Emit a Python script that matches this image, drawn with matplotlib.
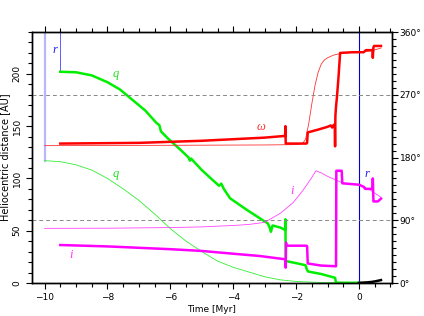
import numpy as np
import matplotlib.pyplot as plt
from matplotlib.ticker import MultipleLocator

# perihelion distance q [AU], thin run (starts at -10 Myr)
t_q_thin = [-10, -9.5, -9, -8.5, -8, -7.5, -7, -6.5, -6, -5.5, -5, -4.5, -4,
            -3.5, -3, -2.5, -2, -1.5, -1, -0.5, 0]
q_thin = [117, 116, 113, 108, 100, 90, 79, 66, 52, 40, 30, 21, 15,
          10.5, 6, 3, 1.5, 0.8, 0.4, 0.2, 0.1]

# perihelion distance q [AU], thick run (starts at -9.5 Myr)
t_q = [-9.5, -9, -8.5, -8, -7.6, -7.2, -6.8, -6.44, -6.35, -6.3, -6.07, -5.7,
       -5.42, -5.38, -5.34, -5.0, -4.6, -4.45, -4.38, -4.3, -4.1, -3.57, -3.15,
       -2.9, -2.84, -2.8, -2.75, -2.5, -2.35, -2.34, -2.33, -2.0, -1.7, -1.66,
       -1.62, -1.2, -0.76, -0.73, -0.3, 0]
q = [202, 201.5, 198.5, 192, 185, 175, 165, 153, 151, 145, 138, 128,
     120, 117, 119, 108, 97, 93, 95, 90, 81, 70, 61.8,
     57, 53, 49, 55, 53, 50.7, 61, 21, 19, 17, 13,
     11, 8.6, 5, 0.3, 0.2, 0.2]

# q after t = 0 (black)
t_q_end = [0, 0.2, 0.4, 0.55, 0.7]
q_end = [0.2, 0.5, 1.0, 1.8, 2.8]

# argument of perihelion omega [deg]
t_w_thin = [-10, -6, -3, -2, -1.8, -1.7, -1.6, -1.5, -1.4, -1.3, -1.2, -1.1,
            -1.0, -0.8, -0.5, 0, 0.4, 0.7]
w_thin = [197, 197.5, 198, 198.5, 200, 206, 228, 257, 283, 302, 314, 320,
          323, 327, 330, 331, 333, 337]

t_w = [-9.5, -7, -5, -3, -2.35, -2.34, -2.33, -1.67, -1.65, -1.63, -1.3,
       -1.0, -0.9, -0.85, -0.8, -0.77, -0.76, -0.75, -0.73, -0.7, -0.65,
       -0.6, -0.2, 0.15, 0.22, 0.43, 0.44, 0.46, 0.48, 0.7]
w = [200, 201, 204, 208.5, 211, 225, 200, 200, 201, 216, 220,
     224, 226, 223, 227, 226, 196, 240, 253, 267, 296,
     330, 331, 331, 334, 334, 323, 338, 340, 340]

# inclination i [deg]
t_i_thin = [-10, -8, -6, -5, -4, -3.5, -3, -2.5, -2.1, -1.78, -1.52, -1.37,
            -1.2, -1.0, -0.7, -0.5, 0, 0.3, 0.7]
i_thin = [78.4, 78.6, 79.5, 80.5, 82.5, 84, 87, 100, 115, 133, 150, 161,
          158, 153, 147, 143, 141, 135, 123]

t_i = [-9.5, -8, -6, -5, -4, -3.15, -2.34, -2.33, -2.32, -2.31, -1.68, -1.65,
       -1.63, -1.2, -0.73, -0.72, -0.55, -0.53, 0, 0.15, 0.2, 0.43, 0.44,
       0.46, 0.6, 0.7]
i_thick = [54.5, 52.5, 48.5, 46, 42, 38.7, 34, 22, 58, 53.5, 53.5, 53,
           28, 25, 24, 161, 161, 143, 141, 138, 135, 135, 150,
           117, 117, 121]

# heliocentric distance r: vertical segments where the orbit is off scale
t_r_light = [-10, -10]
r_light = [240, 117]
t_r1 = [-9.5, -9.5]
r1 = [240, 202]
t_r2 = [0, 0]
r2 = [0, 240]

plt.rcParams['font.family'] = ['DejaVu Sans']
fig = plt.figure(figsize=(4.24, 3.16), dpi=100)
ax = fig.add_axes([0.0755, 0.1044, 0.849, 0.7943])
ax2 = ax.twinx()

lw_thick = 1.8
lw_thin = 0.6

ax.plot(t_r_light, r_light, color='#9999ff', lw=1.6, alpha=0.7)
ax.plot(t_r1, r1, color='#4444ff', lw=0.6)
ax.plot(t_r2, r2, color='#0000dd', lw=0.8)

ax.plot(t_q_thin, q_thin, color='#33ee33', lw=lw_thin)
ax.plot(t_q, q, color='#00ee00', lw=lw_thick)
ax.plot(t_q_end, q_end, color='black', lw=lw_thick)

ax2.plot(t_w_thin, w_thin, color='#ff3333', lw=lw_thin)
ax2.plot(t_w, w, color='#ff0000', lw=lw_thick)
ax2.plot(t_i_thin, i_thin, color='#ff44ff', lw=lw_thin)
ax2.plot(t_i, i_thick, color='#ff00ff', lw=lw_thick)

for d in (90, 270):
    ax2.axhline(d, color='#888888', lw=0.7, ls=(0, (4, 3)))

ax.set_xlim(-10.4, 1.05)
ax.set_ylim(0, 240)
ax2.set_ylim(0, 360)

ax.xaxis.set_major_locator(MultipleLocator(2))
ax.xaxis.set_minor_locator(MultipleLocator(0.5))
ax.yaxis.set_major_locator(MultipleLocator(50))
ax.yaxis.set_minor_locator(MultipleLocator(10))
ax2.yaxis.set_minor_locator(MultipleLocator(10))
ax2.set_yticks([0, 90, 180, 270, 360])
ax2.set_yticklabels(['0°', '90°', '180°', '270°', '360°'])

ax.tick_params(which='both', direction='out', top=True, labelsize=6.5, width=0.8)
ax.tick_params(which='major', length=4)
ax.tick_params(which='minor', length=3)
ax.tick_params(axis='y', labelrotation=90)
for lab in ax.get_yticklabels():
    lab.set_va('center')
ax2.tick_params(which='both', direction='out', labelsize=6.5, width=0.8, pad=1.5)
ax2.tick_params(which='major', length=4)
ax2.tick_params(which='minor', length=3)
ax.set_xticks([-10, -8, -6, -4, -2, 0])
ax.set_xticklabels(['\u221210', '\u22128', '\u22126', '\u22124', '\u22122', '0'])

ax.set_xlabel('Time [Myr]', fontsize=6.5, labelpad=2)
ax.set_ylabel('Heliocentric distance [AU]', fontsize=7, labelpad=2)
for sp in list(ax.spines.values()) + list(ax2.spines.values()):
    sp.set_linewidth(1.0)

lab_kw = dict(family='Liberation Serif', style='italic', fontsize=9)
ax.text(-9.76, 220, 'r', color='#2222ff', **lab_kw)
ax.text(0.18, 101, 'r', color='#2222ff', **lab_kw)
ax.text(-7.85, 197, 'q', color='#22dd22', **lab_kw)
ax.text(-7.85, 101, 'q', color='#22dd22', **lab_kw)
ax2.text(-3.25, 219, '\u03c9', color='#ff3333', **lab_kw)
ax2.text(-2.2, 127, 'i', color='#ff33ff', **lab_kw)
ax.text(-9.2, 24, 'i', color='#ff33ff', **lab_kw)

fig.savefig('out.png', dpi=100)
